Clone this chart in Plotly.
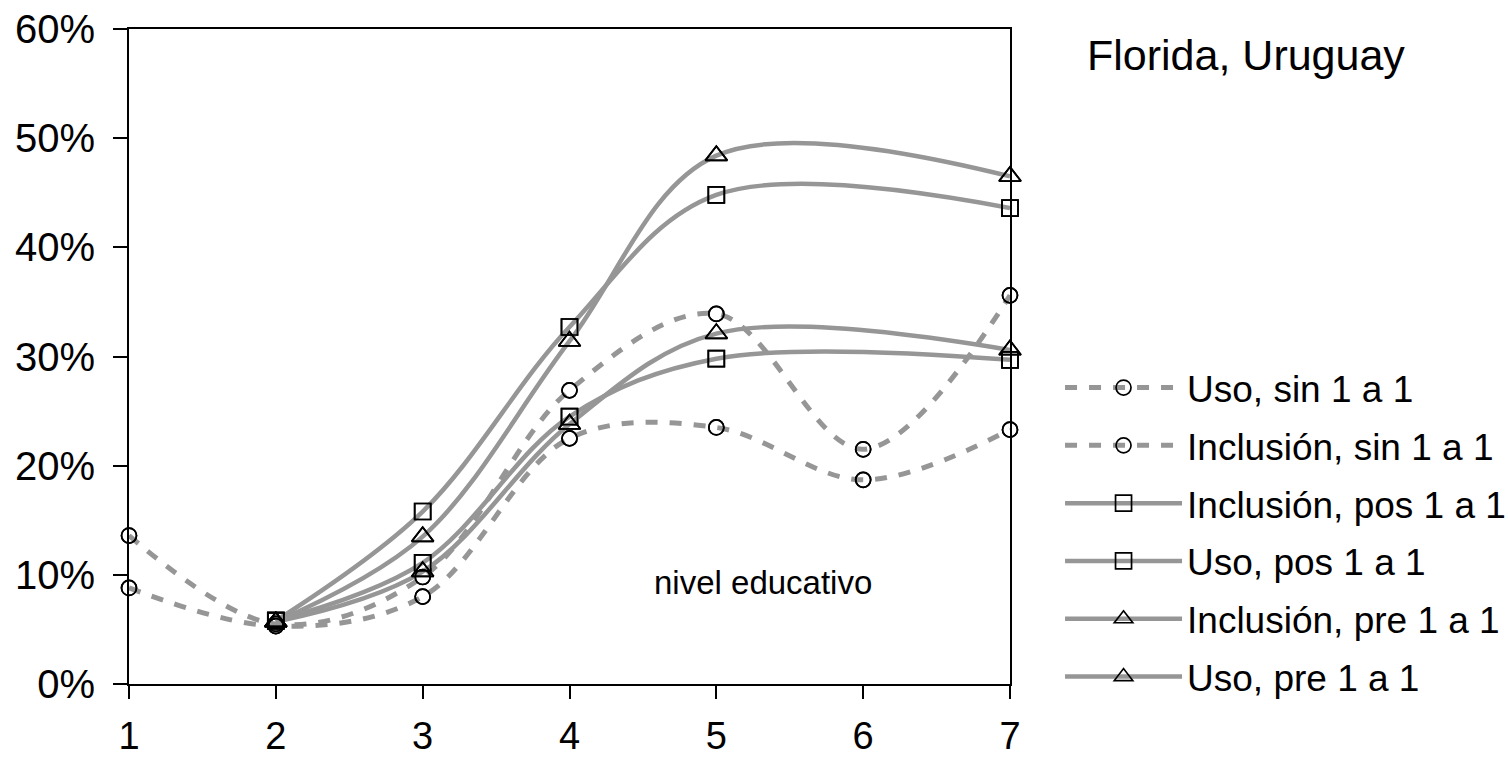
import plotly.graph_objects as go

nivel = [1, 2, 3, 4, 5, 6, 7]

uso_sin = [0.088, 0.053, 0.080, 0.225, 0.235, 0.187, 0.233]
inclusion_sin = [0.136, 0.055, 0.098, 0.269, 0.339, 0.215, 0.356]
inclusion_pos = [None, 0.058, 0.158, 0.327, 0.448, None, 0.436]
uso_pos = [None, 0.058, 0.111, 0.245, 0.298, None, 0.297]
inclusion_pre = [None, 0.057, 0.135, 0.314, 0.484, None, 0.465]
uso_pre = [None, 0.057, 0.103, 0.238, 0.321, None, 0.306]

series = [
    ("Uso, sin 1 a 1", uso_sin, "circle-open", 15, "12px,12px"),
    ("Inclusión, sin 1 a 1", inclusion_sin, "circle-open", 15, "12px,12px"),
    ("Inclusión, pos 1 a 1", inclusion_pos, "square-open", 16, "solid"),
    ("Uso, pos 1 a 1", uso_pos, "square-open", 16, "solid"),
    ("Inclusión, pre 1 a 1", inclusion_pre, "triangle-up-open", 19, "solid"),
    ("Uso, pre 1 a 1", uso_pre, "triangle-up-open", 19, "solid"),
]

FONT = "Arial, Liberation Sans, sans-serif"
GRAY = "#969696"

fig = go.Figure()
for i, (name, vals, sym, size, dash) in enumerate(series):
    fig.add_trace(go.Scatter(
        x=nivel, y=vals, name=name, mode="lines+markers",
        line=dict(color=GRAY, width=5 if dash != "solid" else 4.5, dash=dash,
                  shape="spline", smoothing=1),
        marker=dict(symbol=sym, color="black", size=size, line=dict(width=1.7)),
        connectgaps=True, cliponaxis=False, legendgroup=f"g{i}",
    ))
# markers on top of all lines
for i, (name, vals, sym, size, dash) in enumerate(series):
    fig.add_trace(go.Scatter(
        x=nivel, y=vals, mode="markers", showlegend=False,
        marker=dict(symbol=sym, color="black", size=size, line=dict(width=1.7)),
        cliponaxis=False, hoverinfo="skip", legendgroup=f"g{i}",
    ))

fig.add_annotation(text="nivel educativo", x=5.318, y=0.0934, xref="x", yref="y",
                   showarrow=False, font=dict(family=FONT, size=33, color="black"))
fig.add_annotation(text="Florida, Uruguay", x=1.0851, y=0.9603, xref="paper", yref="paper",
                   xanchor="left", yanchor="middle", showarrow=False,
                   font=dict(family=FONT, size=43, color="black"))

fig.update_layout(
    width=1508, height=761,
    margin=dict(l=129, r=498, t=29, b=77, autoexpand=False),
    paper_bgcolor="white", plot_bgcolor="white",
    font=dict(family=FONT, color="black"),
    showlegend=True,
    legend=dict(x=1.0568, y=0.4992, xanchor="left", yanchor="top",
                font=dict(family=FONT, size=37, color="black"),
                itemwidth=117, tracegroupgap=6.7, traceorder="grouped",
                bgcolor="rgba(0,0,0,0)"),
    xaxis=dict(range=[1, 7], dtick=1, tick0=1, showgrid=False, zeroline=False,
               showline=True, linecolor="black", linewidth=2, mirror=True,
               ticks="outside", ticklen=13, tickwidth=2, tickcolor="black", automargin=False,
               tickfont=dict(family=FONT, size=38, color="black"), ticklabelstandoff=4),
    yaxis=dict(range=[0, 0.6], dtick=0.1, tickformat=".0%", showgrid=False, zeroline=False,
               showline=True, linecolor="black", linewidth=2, mirror=True,
               ticks="outside", ticklen=14, tickwidth=2, tickcolor="black", automargin=False,
               tickfont=dict(family=FONT, size=40, color="black"), ticklabelstandoff=10),
)

fig.write_html("out.html")
